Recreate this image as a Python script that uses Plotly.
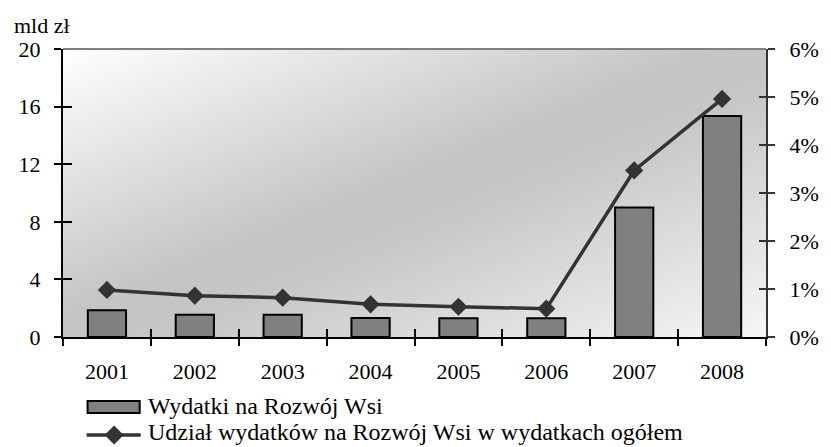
import base64
import plotly.graph_objects as go

years = ["2001", "2002", "2003", "2004", "2005", "2006", "2007", "2008"]
spending_bn = [1.85, 1.55, 1.55, 1.32, 1.3, 1.3, 9.0, 15.35]
share_pct = [0.0098, 0.0086, 0.0082, 0.0068, 0.0063, 0.0059, 0.0347, 0.0496]

bar_name = "Wydatki na Rozwój Wsi"
line_name = "Udział wydatków na Rozwój Wsi w wydatkach ogółem"
unit_label = "mld zł"

W, H = 831, 447
L, R, T, B = 63, 53, 49, 110
PW, PH = W - L - R, H - T - B
FONT = "Liberation Serif"


def px_x(px):
    return (px - L) / PW


def px_y(py):
    return (H - B - py) / PH


svg = (
    '<svg xmlns="http://www.w3.org/2000/svg" width="100" height="100" '
    'viewBox="0 0 100 100" preserveAspectRatio="none">'
    '<defs><linearGradient id="g" x1="0" y1="0" x2="1" y2="1">'
    '<stop offset="0" stop-color="#FFFFFF"/>'
    '<stop offset="0.47" stop-color="#C4C4C4"/>'
    '<stop offset="0.56" stop-color="#C6C6C6"/>'
    '<stop offset="1" stop-color="#F6F6F6"/>'
    '</linearGradient></defs>'
    '<rect x="0" y="0" width="100" height="100" fill="url(#g)"/></svg>'
)
svg_uri = "data:image/svg+xml;base64," + base64.b64encode(svg.encode()).decode()

fig = go.Figure()

fig.add_trace(go.Bar(
    x=years, y=spending_bn, name=bar_name, width=0.435,
    marker=dict(color="#808080", line=dict(color="#000000", width=2)),
    showlegend=False, hoverinfo="x+y",
))
fig.add_trace(go.Scatter(
    x=years, y=share_pct, name=line_name, yaxis="y2", mode="lines+markers",
    line=dict(color="#333333", width=3.5),
    marker=dict(symbol="diamond", size=14, color="#333333"),
    showlegend=False,
))
# invisible helper traces for the inward half of the crossing ticks
fig.add_trace(go.Bar(
    x=years, y=spending_bn, xaxis="x3", yaxis="y3", opacity=0,
    showlegend=False, hoverinfo="skip",
))
fig.add_trace(go.Scatter(
    x=years, y=share_pct, xaxis="x3", yaxis="y4", mode="lines", opacity=0,
    showlegend=False, hoverinfo="skip",
))

tickfont = dict(family=FONT, size=22, color="#000000")

fig.update_layout(
    width=W, height=H, autosize=False,
    margin=dict(l=L, r=R, t=T, b=B, pad=0),
    paper_bgcolor="#FFFFFF", plot_bgcolor="rgba(0,0,0,0)",
    font=dict(family=FONT, size=22, color="#000000"),
    showlegend=False,
    xaxis=dict(
        type="category", tickson="boundaries", ticks="outside", ticklen=7,
        tickwidth=1.5, tickcolor="#000000", showline=True, linecolor="#000000",
        linewidth=2, showgrid=False, tickfont=tickfont, ticklabelstandoff=14,
    ),
    xaxis3=dict(
        type="category", overlaying="x", tickson="boundaries", ticks="inside",
        ticklen=8, tickwidth=1.5, tickcolor="#000000", showline=False,
        showgrid=False, showticklabels=False,
    ),
    yaxis=dict(
        range=[0, 20], dtick=4, ticks="outside", ticklen=7, tickwidth=1.5,
        tickcolor="#000000", showline=True, linecolor="#000000", linewidth=2,
        showgrid=False, zeroline=False, tickfont=tickfont, ticklabelstandoff=9,
    ),
    yaxis3=dict(
        range=[0, 20], dtick=4, overlaying="y", ticks="inside", ticklen=9,
        tickwidth=1.5, tickcolor="#000000", showline=False, showgrid=False,
        zeroline=False, showticklabels=False,
    ),
    yaxis2=dict(
        range=[0, 0.06], dtick=0.01, tickformat=".0%", overlaying="y",
        side="right", ticks="outside", ticklen=7, tickwidth=1.5,
        tickcolor="#333333", showline=True, linecolor="#333333", linewidth=2,
        showgrid=False, zeroline=False, tickfont=tickfont, ticklabelstandoff=10,
    ),
    yaxis4=dict(
        range=[0, 0.06], dtick=0.01, overlaying="y", side="right",
        ticks="inside", ticklen=7, tickwidth=1.5, tickcolor="#333333",
        showline=False, showgrid=False, zeroline=False, showticklabels=False,
    ),
    images=[dict(
        source=svg_uri, xref="paper", yref="paper", x=0, y=1, sizex=1,
        sizey=1, xanchor="left", yanchor="top", sizing="stretch",
        layer="below",
    )],
)

shapes = [
    # top border of plot area
    dict(type="line", xref="paper", yref="paper", x0=0, x1=1, y0=1, y1=1,
         line=dict(color="#808080", width=2)),
    # legend: bar swatch
    dict(type="rect", xref="paper", yref="paper",
         x0=px_x(88), x1=px_x(141), y0=px_y(413), y1=px_y(401),
         fillcolor="#808080", line=dict(color="#000000", width=2)),
    # legend: line
    dict(type="line", xref="paper", yref="paper",
         x0=px_x(87), x1=px_x(142), y0=px_y(435), y1=px_y(435),
         line=dict(color="#333333", width=3.5)),
    # legend: diamond marker
    dict(type="path", xref="paper", yref="paper", xsizemode="pixel",
         ysizemode="pixel", xanchor=px_x(115), yanchor=px_y(435),
         path="M0,-9.5 L9.5,0 L0,9.5 L-9.5,0 Z",
         fillcolor="#333333", line=dict(color="#333333", width=0)),
]
fig.update_layout(shapes=shapes)

fig.add_annotation(
    text=unit_label, xref="paper", yref="paper", x=px_x(11), y=px_y(26),
    xanchor="left", yanchor="middle", showarrow=False,
    font=dict(family=FONT, size=22, color="#000000"),
)
fig.add_annotation(
    text=bar_name, xref="paper", yref="paper", x=px_x(147), y=px_y(406),
    xanchor="left", yanchor="middle", showarrow=False,
    font=dict(family=FONT, size=24, color="#000000"),
)
fig.add_annotation(
    text=line_name, xref="paper", yref="paper", x=px_x(147), y=px_y(432),
    xanchor="left", yanchor="middle", showarrow=False,
    font=dict(family=FONT, size=24, color="#000000"),
)

fig.write_html(
    "out.html",
    config={"displayModeBar": False},
    post_script="document.body.style.margin='0';document.body.style.overflow='hidden';",
)
